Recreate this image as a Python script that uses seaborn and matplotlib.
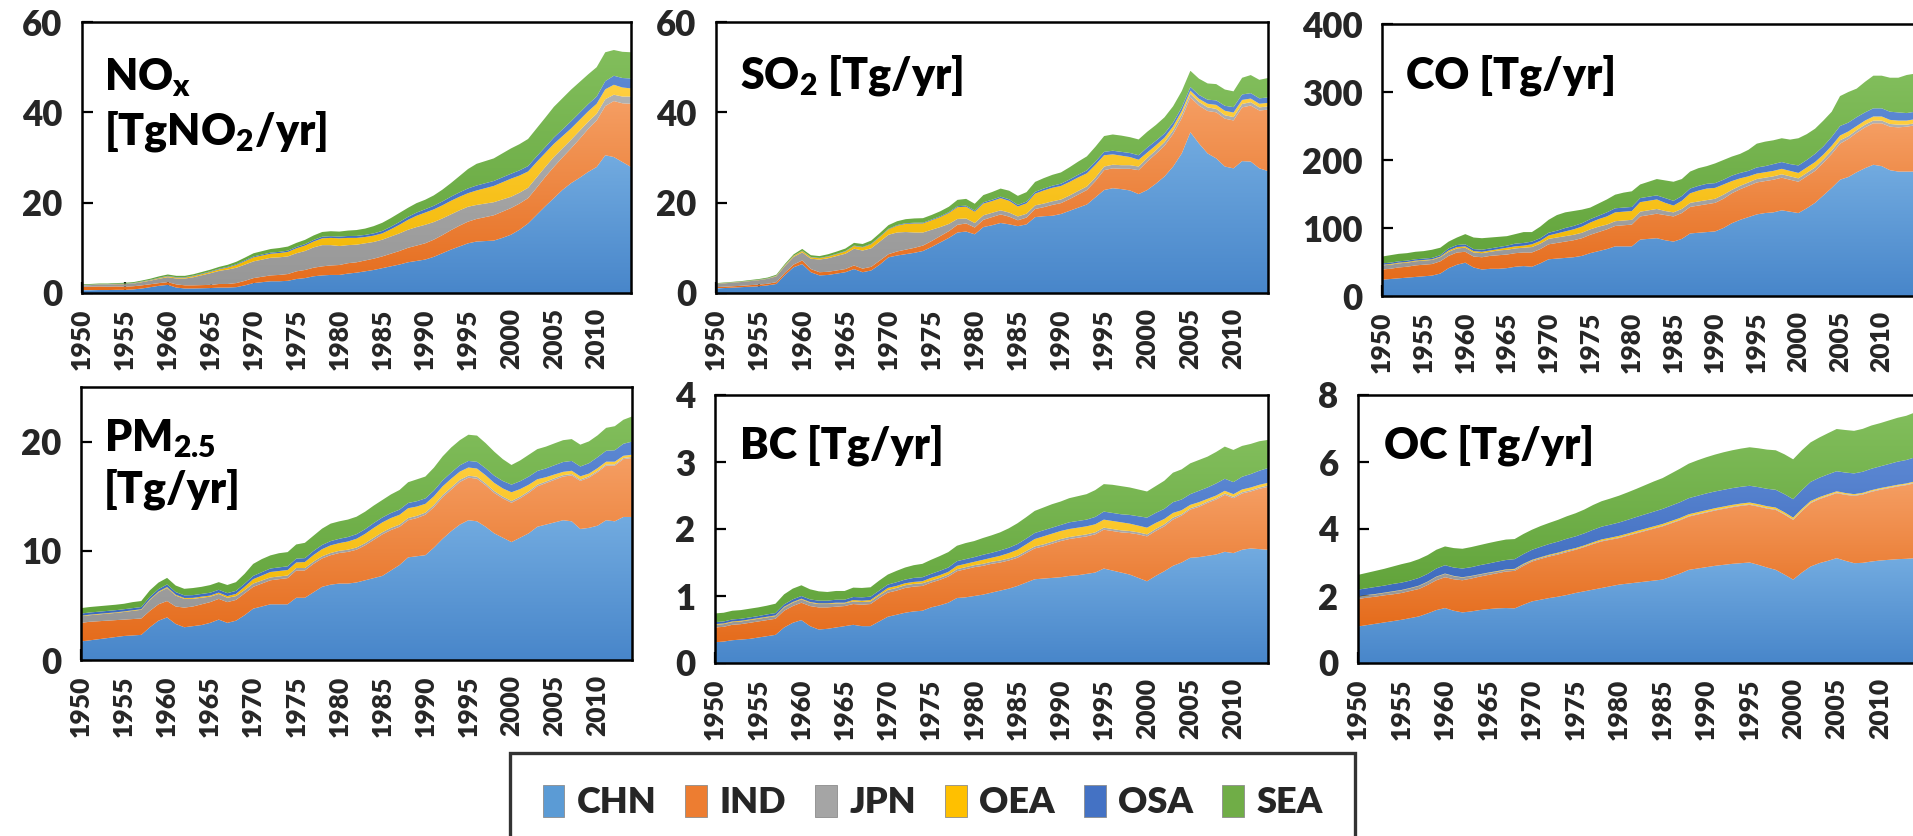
import numpy as np
import pandas as pd
import matplotlib
matplotlib.use("Agg")
import matplotlib.pyplot as plt
from matplotlib.colors import LinearSegmentedColormap
from matplotlib.patches import Patch
import seaborn as sns

YEARS = list(range(1950, 2015))
REGIONS = ["CHN", "IND", "JPN", "OEA", "OSA", "SEA"]

# ---------------- NOx [Tg NO2/yr] ----------------
NOX_CHN = [0.6, 0.6, 0.65, 0.65, 0.7, 0.7, 0.8, 1.0, 1.3, 1.6,
           1.8, 1.2, 1.0, 1.0, 1.05, 1.1, 1.2, 1.2, 1.3, 1.7,
           2.2, 2.4, 2.6, 2.6, 2.7, 3.1, 3.3, 3.7, 3.9, 4.0,
           4.0, 4.3, 4.5, 4.8, 5.1, 5.5, 5.9, 6.3, 6.8, 7.1,
           7.4, 8.0, 8.8, 9.6, 10.3, 11.0, 11.4, 11.5, 11.6, 12.2,
           12.9, 14.0, 15.4, 17.3, 19.2, 21.0, 22.8, 24.3, 25.5, 26.8,
           27.9, 30.5, 30.1, 29.0, 27.9]
NOX_IND = [0.8, 0.8, 0.8, 0.75, 0.75, 0.7, 0.7, 0.7, 0.65, 0.6,
           0.6, 0.7, 0.7, 0.7, 0.7, 0.7, 0.8, 0.8, 0.9, 1.0,
           1.1, 1.2, 1.3, 1.4, 1.5, 1.7, 1.8, 1.9, 2.0, 2.1,
           2.2, 2.3, 2.3, 2.4, 2.5, 2.6, 2.8, 3.0, 3.2, 3.4,
           3.6, 3.8, 4.0, 4.3, 4.6, 4.8, 5.0, 5.3, 5.6, 5.8,
           5.9, 5.8, 5.6, 6.0, 6.5, 6.9, 7.2, 7.7, 8.6, 9.5,
           10.3, 10.9, 12.4, 13.0, 14.0]
NOX_JPN = [0.3, 0.35, 0.4, 0.45, 0.5, 0.55, 0.6, 0.7, 0.8, 0.95,
           1.1, 1.3, 1.5, 1.8, 2.2, 2.6, 2.9, 3.2, 3.4, 3.6,
           3.7, 3.8, 3.9, 3.9, 3.9, 4.0, 4.2, 4.5, 4.7, 4.5,
           4.2, 4.0, 3.9, 3.8, 3.7, 3.7, 3.8, 3.9, 4.0, 4.1,
           4.1, 3.9, 3.7, 3.5, 3.4, 3.3, 3.1, 3.0, 2.9, 2.7,
           2.5, 2.4, 2.3, 2.3, 2.2, 2.2, 2.0, 1.9, 1.8, 1.6,
           1.5, 1.5, 1.4, 1.5, 1.6]
NOX_OEA = [0.05, 0.05, 0.05, 0.05, 0.05, 0.05, 0.05, 0.1, 0.1, 0.15,
           0.2, 0.2, 0.2, 0.25, 0.25, 0.3, 0.35, 0.45, 0.6, 0.75,
           0.9, 0.9, 0.9, 0.95, 1.0, 1.1, 1.2, 1.3, 1.5, 1.6,
           1.7, 1.6, 1.5, 1.4, 1.4, 1.4, 1.6, 1.9, 2.2, 2.5,
           2.7, 2.8, 2.9, 3.0, 3.0, 3.0, 3.2, 3.4, 3.6, 3.8,
           4.0, 3.8, 3.6, 3.4, 3.1, 2.9, 2.7, 2.5, 2.4, 2.3,
           2.2, 2.2, 2.2, 2.0, 1.8]
NOX_OSA = [0.05, 0.05, 0.05, 0.05, 0.05, 0.06, 0.06, 0.07, 0.08, 0.09,
           0.1, 0.1, 0.1, 0.11, 0.12, 0.13, 0.14, 0.15, 0.17, 0.19,
           0.2, 0.22, 0.24, 0.26, 0.28, 0.3, 0.32, 0.34, 0.36, 0.38,
           0.4, 0.42, 0.44, 0.46, 0.5, 0.54, 0.58, 0.62, 0.66, 0.7,
           0.74, 0.8, 0.86, 0.92, 0.98, 1.05, 1.1, 1.1, 1.1, 1.1,
           1.1, 1.15, 1.2, 1.25, 1.3, 1.4, 1.5, 1.6, 1.6, 1.6,
           1.6, 1.8, 2.0, 2.1, 2.2]
NOX_SEA = [0.15, 0.15, 0.15, 0.15, 0.15, 0.2, 0.2, 0.2, 0.25, 0.3,
           0.3, 0.3, 0.3, 0.3, 0.35, 0.35, 0.4, 0.45, 0.55, 0.6,
           0.7, 0.75, 0.8, 0.85, 0.9, 0.9, 0.95, 1.0, 1.05, 1.1,
           1.1, 1.2, 1.3, 1.4, 1.6, 1.8, 1.9, 2.0, 2.0, 2.1,
           2.1, 2.3, 2.6, 3.0, 3.6, 4.3, 4.8, 4.9, 5.0, 5.3,
           5.6, 5.8, 6.0, 6.2, 6.5, 6.8, 6.9, 7.0, 6.8, 6.6,
           6.5, 6.4, 5.7, 5.8, 5.8]

# ---------------- SO2 [Tg/yr] ----------------
SO2_CHN = [1.0, 1.1, 1.2, 1.3, 1.4, 1.5, 1.7, 2.0, 4.0, 5.7,
           6.4, 4.6, 3.9, 4.0, 4.3, 4.6, 5.3, 4.6, 5.0, 6.3,
           7.9, 8.3, 8.6, 8.9, 9.3, 10.2, 11.2, 12.2, 13.4, 13.6,
           13.0, 14.6, 15.0, 15.5, 15.2, 14.8, 15.2, 16.8, 17.0, 17.1,
           17.5, 18.2, 18.9, 19.6, 21.2, 22.8, 23.2, 23.0, 22.7, 21.9,
           22.8, 24.2, 25.8, 28.0, 30.9, 35.6, 33.1, 30.9, 29.8, 28.0,
           27.6, 29.2, 29.1, 27.6, 27.0]
SO2_IND = [0.3, 0.3, 0.3, 0.3, 0.35, 0.35, 0.35, 0.4, 0.5, 0.6,
           0.8, 0.7, 0.7, 0.7, 0.7, 0.7, 0.8, 0.8, 0.8, 0.9,
           0.7, 0.9, 1.0, 1.1, 1.2, 1.3, 1.4, 1.5, 1.7, 1.8,
           1.5, 1.6, 1.8, 1.9, 1.7, 1.3, 1.5, 1.8, 2.0, 2.4,
           2.4, 2.6, 2.9, 3.2, 3.6, 4.4, 4.4, 4.5, 4.8, 5.3,
           6.3, 6.6, 6.8, 7.2, 7.8, 7.7, 8.4, 9.4, 10.2, 10.6,
           10.6, 11.9, 12.4, 12.8, 13.6]
SO2_JPN = [0.7, 0.75, 0.8, 0.85, 0.9, 1.0, 1.1, 1.3, 1.5, 1.7,
           1.8, 2.3, 2.8, 3.0, 3.2, 3.4, 3.7, 4.0, 4.1, 4.2,
           4.3, 4.2, 3.9, 3.4, 2.9, 2.5, 2.0, 1.6, 1.3, 1.1,
           1.0, 1.0, 0.95, 0.9, 0.9, 0.85, 0.85, 0.8, 0.8, 0.8,
           0.8, 0.8, 0.8, 0.8, 0.8, 0.8, 0.8, 0.8, 0.8, 0.8,
           0.8, 0.8, 0.8, 0.8, 0.8, 0.8, 0.8, 0.8, 0.75, 0.75,
           0.75, 0.75, 0.75, 0.7, 0.7]
SO2_OEA = [0.05, 0.05, 0.05, 0.05, 0.05, 0.05, 0.05, 0.1, 0.15, 0.2,
           0.3, 0.3, 0.3, 0.35, 0.4, 0.5, 0.6, 0.7, 0.9, 1.0,
           1.2, 1.5, 1.8, 2.0, 2.0, 2.1, 2.2, 2.4, 2.6, 2.6,
           2.5, 2.6, 2.6, 2.7, 2.6, 2.2, 2.3, 2.6, 2.9, 3.0,
           3.0, 3.0, 3.0, 2.9, 2.8, 2.5, 2.3, 2.1, 1.8, 1.5,
           1.2, 1.1, 1.0, 0.9, 0.8, 0.7, 0.7, 0.8, 0.9, 1.0,
           1.0, 0.9, 0.8, 0.8, 0.8]
SO2_OSA = [0.03, 0.03, 0.03, 0.03, 0.04, 0.04, 0.04, 0.05, 0.05, 0.06,
           0.06, 0.07, 0.07, 0.08, 0.08, 0.09, 0.1, 0.1, 0.11, 0.12,
           0.13, 0.14, 0.15, 0.16, 0.17, 0.18, 0.19, 0.2, 0.22, 0.24,
           0.26, 0.28, 0.3, 0.32, 0.34, 0.36, 0.38, 0.4, 0.43, 0.46,
           0.5, 0.55, 0.6, 0.65, 0.7, 0.75, 0.8, 0.85, 0.9, 1.0,
           1.1, 1.0, 0.9, 0.85, 0.8, 0.8, 0.85, 0.9, 1.0, 1.1,
           1.2, 1.2, 1.2, 1.2, 1.2]
SO2_SEA = [0.1, 0.1, 0.1, 0.12, 0.14, 0.16, 0.18, 0.2, 0.25, 0.3,
           0.4, 0.4, 0.4, 0.45, 0.5, 0.55, 0.6, 0.65, 0.7, 0.75,
           0.8, 0.85, 0.9, 0.95, 1.0, 1.0, 1.1, 1.2, 1.4, 1.5,
           1.5, 1.6, 1.7, 1.8, 1.9, 2.0, 2.1, 2.2, 2.3, 2.4,
           2.5, 2.7, 2.9, 3.1, 3.3, 3.5, 3.6, 3.6, 3.5, 3.5,
           3.5, 3.5, 3.6, 3.6, 3.6, 3.6, 3.6, 3.6, 3.6, 3.6,
           3.5, 3.7, 4.0, 4.1, 4.3]

# ---------------- CO [Tg/yr] ----------------
CO_CHN = [24, 25, 26, 27, 28, 29, 30, 33, 41, 46,
          49, 42, 39, 40, 40, 41, 43, 44, 43, 48,
          54, 55, 56, 57, 59, 63, 66, 69, 73, 73,
          73, 83, 84, 85, 82, 80, 84, 92, 93, 94,
          95, 100, 107, 112, 116, 120, 122, 123, 126, 124,
          122, 129, 137, 148, 159, 171, 175, 182, 188, 193,
          191, 185, 183, 183, 183]
CO_IND = [15, 15, 16, 16, 17, 17, 17, 18, 18, 18,
          16, 16, 18, 19, 20, 20, 20, 20, 21, 21,
          22, 23, 24, 25, 26, 27, 28, 29, 30, 31,
          32, 34, 35, 36, 37, 37, 38, 39, 40, 41,
          42, 43, 44, 45, 46, 47, 47, 48, 48, 47,
          46, 47, 47, 48, 50, 53, 56, 58, 60, 61,
          63, 64, 65, 66, 68]
CO_JPN = [6, 6, 6, 6, 6, 6, 6, 6, 6, 6,
          6, 6, 6, 6, 7, 7, 7, 7, 8, 8,
          8, 8, 8, 8, 8, 8, 8, 7, 7, 7,
          7, 7, 7, 7, 6, 6, 6, 6, 6, 6,
          6, 6, 5, 5, 5, 5, 5, 5, 5, 5,
          5, 5, 5, 5, 5, 5, 4, 4, 4, 4,
          4, 4, 4, 3, 3]
CO_OEA = [1, 1, 1, 1, 1, 1, 1, 1, 2, 2,
          2, 2, 2, 2, 2, 3, 3, 3, 4, 4,
          5, 6, 7, 8, 9, 10, 11, 12, 13, 13,
          13, 14, 14, 14, 12, 10, 12, 14, 16, 17,
          16, 15, 13, 11, 9, 8, 8, 8, 8, 8,
          8, 8, 8, 7, 7, 7, 7, 6, 6, 6,
          6, 6, 6, 6, 6]
CO_OSA = [2, 2, 2, 2, 2, 2, 2, 2, 3, 3,
          3, 3, 3, 3, 3, 3, 4, 4, 4, 4,
          4, 4, 5, 5, 5, 5, 5, 6, 6, 6,
          6, 6, 6, 6, 7, 7, 7, 7, 7, 7,
          7, 7, 8, 8, 8, 9, 9, 10, 10, 10,
          11, 11, 12, 12, 13, 14, 13, 13, 12, 12,
          12, 12, 12, 11, 11]
CO_SEA = [10, 11, 11, 11, 11, 11, 12, 11, 10, 11,
          15, 17, 17, 16, 15, 14, 14, 16, 14, 17,
          19, 23, 23, 22, 20, 17, 18, 19, 20, 22,
          23, 20, 22, 24, 26, 28, 25, 25, 26, 26,
          29, 29, 28, 28, 31, 35, 36, 35, 35, 36,
          40, 38, 37, 38, 37, 44, 45, 42, 45, 48,
          48, 50, 51, 56, 56]

# ---------------- PM2.5 [Tg/yr] ----------------
PM_CHN = [1.7, 1.8, 1.9, 2.0, 2.1, 2.2, 2.25, 2.3, 3.0, 3.6,
          3.9, 3.3, 3.0, 3.1, 3.2, 3.4, 3.7, 3.4, 3.6, 4.1,
          4.7, 4.9, 5.1, 5.1, 5.1, 5.7, 5.7, 6.2, 6.7, 6.9,
          7.0, 7.0, 7.1, 7.3, 7.5, 7.7, 8.2, 8.7, 9.4, 9.5,
          9.6, 10.3, 11.1, 11.8, 12.4, 12.8, 12.7, 12.2, 11.6, 11.2,
          10.8, 11.2, 11.6, 12.2, 12.4, 12.6, 12.8, 12.7, 12.0, 12.1,
          12.3, 12.8, 12.7, 13.1, 13.1]
PM_IND = [1.7, 1.7, 1.65, 1.6, 1.55, 1.5, 1.5, 1.5, 1.5, 1.5,
          1.5, 1.6, 1.8, 1.8, 1.9, 1.9, 1.9, 1.9, 1.9, 2.0,
          2.0, 2.1, 2.2, 2.3, 2.4, 2.5, 2.5, 2.6, 2.6, 2.7,
          2.8, 2.9, 3.0, 3.2, 3.5, 3.8, 3.7, 3.5, 3.4, 3.5,
          3.7, 3.7, 3.8, 3.8, 3.9, 3.9, 3.9, 3.8, 3.7, 3.6,
          3.6, 3.6, 3.7, 3.7, 3.8, 3.9, 4.0, 4.2, 4.4, 4.6,
          4.9, 5.0, 5.1, 5.3, 5.4]
PM_JPN = [0.6, 0.6, 0.62, 0.64, 0.66, 0.7, 0.75, 0.8, 1.0, 1.1,
          1.2, 1.0, 0.8, 0.7, 0.6, 0.5, 0.45, 0.4, 0.35, 0.3,
          0.3, 0.28, 0.26, 0.25, 0.24, 0.23, 0.22, 0.21, 0.2, 0.2,
          0.2, 0.2, 0.2, 0.2, 0.2, 0.2, 0.2, 0.2, 0.2, 0.2,
          0.2, 0.2, 0.2, 0.2, 0.2, 0.18, 0.18, 0.17, 0.17, 0.16,
          0.16, 0.15, 0.15, 0.15, 0.14, 0.14, 0.13, 0.13, 0.12, 0.12,
          0.12, 0.11, 0.11, 0.1, 0.1]
PM_OEA = [0.05, 0.05, 0.05, 0.05, 0.05, 0.05, 0.05, 0.05, 0.06, 0.07,
          0.08, 0.08, 0.08, 0.09, 0.1, 0.1, 0.12, 0.15, 0.2, 0.3,
          0.4, 0.45, 0.5, 0.5, 0.5, 0.5, 0.55, 0.6, 0.65, 0.7,
          0.7, 0.75, 0.8, 0.85, 0.9, 0.9, 0.9, 0.9, 0.9, 0.85,
          0.8, 0.8, 0.8, 0.8, 0.75, 0.75, 0.75, 0.75, 0.75, 0.75,
          0.8, 0.7, 0.6, 0.5, 0.4, 0.35, 0.3, 0.3, 0.3, 0.25,
          0.25, 0.25, 0.25, 0.2, 0.2]
PM_OSA = [0.2, 0.2, 0.2, 0.2, 0.2, 0.2, 0.2, 0.2, 0.22, 0.22,
          0.24, 0.24, 0.24, 0.25, 0.25, 0.26, 0.26, 0.27, 0.28, 0.29,
          0.3, 0.31, 0.32, 0.33, 0.34, 0.35, 0.36, 0.37, 0.38, 0.39,
          0.4, 0.41, 0.42, 0.43, 0.44, 0.45, 0.46, 0.47, 0.48, 0.49,
          0.5, 0.52, 0.54, 0.56, 0.58, 0.6, 0.62, 0.64, 0.66, 0.68,
          0.7, 0.72, 0.74, 0.76, 0.8, 0.85, 0.9, 0.9, 0.9, 0.95,
          1.0, 1.0, 1.05, 1.1, 1.2]
PM_SEA = [0.5, 0.5, 0.5, 0.5, 0.5, 0.5, 0.55, 0.55, 0.6, 0.6,
          0.6, 0.6, 0.6, 0.65, 0.65, 0.7, 0.7, 0.75, 0.8, 0.9,
          1.1, 1.2, 1.2, 1.3, 1.3, 1.3, 1.4, 1.4, 1.5, 1.6,
          1.6, 1.6, 1.6, 1.6, 1.6, 1.6, 1.7, 1.8, 1.9, 2.0,
          2.0, 2.1, 2.2, 2.3, 2.3, 2.4, 2.4, 2.3, 2.2, 2.0,
          1.8, 1.9, 2.0, 2.0, 2.0, 2.0, 2.0, 2.0, 2.0, 2.0,
          2.0, 2.1, 2.2, 2.2, 2.3]

# ---------------- BC [Tg/yr] ----------------
BC_CHN = [0.31, 0.32, 0.34, 0.35, 0.36, 0.38, 0.40, 0.42, 0.53, 0.6,
          0.64, 0.55, 0.50, 0.51, 0.53, 0.55, 0.57, 0.55, 0.55, 0.62,
          0.69, 0.72, 0.75, 0.77, 0.78, 0.83, 0.86, 0.9, 0.97, 0.98,
          1.0, 1.02, 1.05, 1.08, 1.11, 1.15, 1.2, 1.25, 1.26, 1.27,
          1.28, 1.3, 1.31, 1.33, 1.35, 1.41, 1.38, 1.35, 1.32, 1.27,
          1.22, 1.3, 1.37, 1.45, 1.5, 1.57, 1.58, 1.6, 1.62, 1.66,
          1.64, 1.69, 1.71, 1.7, 1.69]
BC_IND = [0.22, 0.22, 0.23, 0.23, 0.24, 0.24, 0.24, 0.24, 0.25, 0.25,
          0.26, 0.3, 0.33, 0.32, 0.31, 0.3, 0.31, 0.32, 0.33, 0.35,
          0.36, 0.36, 0.37, 0.37, 0.37, 0.37, 0.38, 0.39, 0.4, 0.42,
          0.43, 0.43, 0.43, 0.42, 0.42, 0.42, 0.44, 0.46, 0.48, 0.51,
          0.54, 0.55, 0.56, 0.56, 0.57, 0.58, 0.59, 0.6, 0.62, 0.65,
          0.67, 0.67, 0.67, 0.69, 0.7, 0.72, 0.75, 0.79, 0.82, 0.85,
          0.82, 0.84, 0.85, 0.9, 0.94]
BC_JPN = [0.04, 0.04, 0.04, 0.04, 0.04, 0.04, 0.04, 0.04, 0.05, 0.05,
          0.05, 0.05, 0.05, 0.05, 0.05, 0.04, 0.04, 0.04, 0.04, 0.04,
          0.04, 0.04, 0.04, 0.04, 0.04, 0.03, 0.03, 0.03, 0.03, 0.03,
          0.03, 0.03, 0.03, 0.03, 0.03, 0.03, 0.03, 0.03, 0.03, 0.03,
          0.03, 0.03, 0.03, 0.03, 0.03, 0.03, 0.03, 0.03, 0.03, 0.03,
          0.03, 0.03, 0.03, 0.03, 0.02, 0.02, 0.02, 0.02, 0.02, 0.02,
          0.02, 0.02, 0.02, 0.02, 0.02]
BC_OEA = [0.01, 0.01, 0.01, 0.01, 0.01, 0.01, 0.01, 0.01, 0.01, 0.01,
          0.01, 0.01, 0.01, 0.01, 0.01, 0.01, 0.02, 0.02, 0.02, 0.02,
          0.03, 0.03, 0.03, 0.03, 0.03, 0.04, 0.04, 0.04, 0.05, 0.05,
          0.05, 0.06, 0.06, 0.07, 0.08, 0.09, 0.1, 0.11, 0.12, 0.12,
          0.12, 0.12, 0.12, 0.12, 0.12, 0.12, 0.12, 0.12, 0.11, 0.1,
          0.1, 0.09, 0.08, 0.07, 0.06, 0.05, 0.05, 0.04, 0.04, 0.04,
          0.04, 0.04, 0.04, 0.04, 0.04]
BC_OSA = [0.03, 0.03, 0.03, 0.03, 0.03, 0.03, 0.035, 0.035, 0.035, 0.04,
          0.04, 0.04, 0.04, 0.04, 0.045, 0.045, 0.045, 0.05, 0.05, 0.05,
          0.05, 0.055, 0.055, 0.06, 0.06, 0.06, 0.065, 0.065, 0.07, 0.07,
          0.07, 0.075, 0.075, 0.08, 0.08, 0.085, 0.085, 0.09, 0.09, 0.09,
          0.09, 0.1, 0.1, 0.1, 0.11, 0.12, 0.12, 0.12, 0.13, 0.14,
          0.15, 0.15, 0.15, 0.16, 0.16, 0.16, 0.17, 0.17, 0.18, 0.18,
          0.18, 0.19, 0.2, 0.21, 0.22]
BC_SEA = [0.13, 0.13, 0.13, 0.13, 0.13, 0.13, 0.13, 0.14, 0.15, 0.16,
          0.16, 0.15, 0.14, 0.13, 0.13, 0.13, 0.14, 0.14, 0.14, 0.15,
          0.15, 0.17, 0.18, 0.19, 0.2, 0.21, 0.22, 0.23, 0.23, 0.24,
          0.24, 0.25, 0.26, 0.27, 0.29, 0.31, 0.32, 0.33, 0.34, 0.35,
          0.35, 0.36, 0.37, 0.38, 0.4, 0.41, 0.42, 0.42, 0.41, 0.4,
          0.39, 0.4, 0.42, 0.44, 0.45, 0.46, 0.46, 0.46, 0.47, 0.48,
          0.48, 0.46, 0.45, 0.44, 0.42]

# ---------------- OC [Tg/yr] ----------------
OC_CHN = [1.09, 1.13, 1.17, 1.21, 1.25, 1.29, 1.34, 1.39, 1.48, 1.58,
          1.64, 1.56, 1.51, 1.54, 1.58, 1.61, 1.63, 1.64, 1.63, 1.74,
          1.84, 1.89, 1.94, 1.98, 2.03, 2.09, 2.14, 2.19, 2.24, 2.29,
          2.34, 2.37, 2.4, 2.43, 2.46, 2.49, 2.58, 2.67, 2.78, 2.82,
          2.86, 2.9, 2.93, 2.96, 2.98, 3.0, 2.93, 2.85, 2.78, 2.64,
          2.49, 2.7, 2.88, 2.98, 3.05, 3.13, 3.05, 2.98, 2.99, 3.03,
          3.06, 3.08, 3.1, 3.11, 3.13]
OC_IND = [0.82, 0.82, 0.81, 0.81, 0.8, 0.8, 0.81, 0.82, 0.85, 0.89,
          0.92, 0.94, 0.96, 0.98, 1.0, 1.02, 1.05, 1.09, 1.12, 1.16,
          1.19, 1.22, 1.24, 1.26, 1.28, 1.29, 1.32, 1.36, 1.39, 1.39,
          1.39, 1.43, 1.47, 1.51, 1.55, 1.59, 1.59, 1.59, 1.59, 1.61,
          1.63, 1.65, 1.67, 1.69, 1.71, 1.72, 1.74, 1.76, 1.79, 1.79,
          1.78, 1.83, 1.89, 1.91, 1.93, 1.94, 1.97, 2.01, 2.04, 2.08,
          2.11, 2.14, 2.17, 2.2, 2.24]
OC_JPN = [0.07, 0.07, 0.07, 0.07, 0.08, 0.08, 0.08, 0.09, 0.09, 0.1,
          0.1, 0.09, 0.08, 0.07, 0.06, 0.06, 0.05, 0.05, 0.04, 0.04,
          0.03, 0.03, 0.03, 0.03, 0.03, 0.02, 0.02, 0.02, 0.02, 0.02,
          0.02, 0.02, 0.02, 0.02, 0.02, 0.02, 0.02, 0.02, 0.02, 0.02,
          0.02, 0.02, 0.02, 0.02, 0.02, 0.02, 0.02, 0.02, 0.02, 0.02,
          0.02, 0.02, 0.02, 0.02, 0.02, 0.02, 0.02, 0.02, 0.02, 0.02,
          0.02, 0.02, 0.02, 0.02, 0.02]
OC_OEA = [0.01, 0.01, 0.01, 0.01, 0.01, 0.01, 0.01, 0.01, 0.01, 0.01,
          0.01, 0.01, 0.01, 0.01, 0.01, 0.01, 0.015, 0.015, 0.02, 0.02,
          0.02, 0.02, 0.025, 0.025, 0.03, 0.03, 0.03, 0.035, 0.04, 0.04,
          0.045, 0.045, 0.05, 0.05, 0.05, 0.05, 0.05, 0.05, 0.05, 0.05,
          0.05, 0.05, 0.05, 0.05, 0.05, 0.05, 0.05, 0.05, 0.05, 0.05,
          0.05, 0.05, 0.045, 0.04, 0.04, 0.035, 0.035, 0.03, 0.03, 0.03,
          0.03, 0.03, 0.03, 0.03, 0.03]
OC_OSA = [0.2, 0.2, 0.21, 0.21, 0.22, 0.22, 0.22, 0.23, 0.23, 0.24,
          0.25, 0.25, 0.26, 0.26, 0.27, 0.27, 0.28, 0.28, 0.29, 0.29,
          0.3, 0.31, 0.32, 0.33, 0.34, 0.35, 0.36, 0.37, 0.38, 0.39,
          0.4, 0.41, 0.42, 0.43, 0.44, 0.45, 0.46, 0.47, 0.48, 0.49,
          0.5, 0.5, 0.5, 0.5, 0.5, 0.5, 0.51, 0.52, 0.53, 0.54,
          0.55, 0.56, 0.57, 0.58, 0.59, 0.6, 0.61, 0.62, 0.63, 0.64,
          0.65, 0.67, 0.69, 0.7, 0.72]
OC_SEA = [0.44, 0.46, 0.48, 0.5, 0.52, 0.55, 0.55, 0.56, 0.56, 0.56,
          0.56, 0.58, 0.59, 0.6, 0.6, 0.61, 0.61, 0.61, 0.6, 0.6,
          0.6, 0.62, 0.63, 0.65, 0.67, 0.69, 0.71, 0.74, 0.76, 0.78,
          0.8, 0.82, 0.84, 0.87, 0.9, 0.92, 0.96, 1.0, 1.03, 1.06,
          1.08, 1.1, 1.12, 1.13, 1.14, 1.15, 1.16, 1.17, 1.18, 1.19,
          1.19, 1.19, 1.18, 1.2, 1.23, 1.26, 1.27, 1.27, 1.28, 1.29,
          1.29, 1.3, 1.31, 1.32, 1.34]

# Region colours: (lower shade, upper shade) of each gradient band
BASE = sns.color_palette(["#5B9BD5", "#ED7D31", "#A5A5A5", "#FFC000", "#4472C4", "#70AD47"])
SHADES = {
    "CHN": ("#4886CA", "#72ABE0"),
    "IND": ("#E56C1C", "#F59E63"),
    "JPN": ("#979797", "#B1B1B1"),
    "OEA": ("#F2B700", "#FFCF40"),
    "OSA": ("#3D6ABD", "#5C88D3"),
    "SEA": ("#62A43B", "#82BE5C"),
}


def frame(ch, ind, jpn, oea, osa, sea):
    return pd.DataFrame({"Year": YEARS, "CHN": ch, "IND": ind, "JPN": jpn,
                         "OEA": oea, "OSA": osa, "SEA": sea})


PANELS = [
    # data, y max, y step, pixel box (left, top, right, bottom), title lines
    (frame(NOX_CHN, NOX_IND, NOX_JPN, NOX_OEA, NOX_OSA, NOX_SEA), 60, 20,
     (82, 22, 631, 293), [("NO$_\\mathrm{x}$", 104, 90), ("[TgNO$_\\mathrm{2}$/yr]", 104, 144)]),
    (frame(SO2_CHN, SO2_IND, SO2_JPN, SO2_OEA, SO2_OSA, SO2_SEA), 60, 20,
     (716, 22, 1268, 293), [("SO$_\\mathrm{2}$ [Tg/yr]", 740, 88)]),
    (frame(CO_CHN, CO_IND, CO_JPN, CO_OEA, CO_OSA, CO_SEA), 400, 100,
     (1382, 24, 1915, 296), [("CO [Tg/yr]", 1406, 89)]),
    (frame(PM_CHN, PM_IND, PM_JPN, PM_OEA, PM_OSA, PM_SEA), 25, 10,
     (81, 387, 632, 660), [("PM$_\\mathrm{2.5}$", 104, 451), ("[Tg/yr]", 104, 502)]),
    (frame(BC_CHN, BC_IND, BC_JPN, BC_OEA, BC_OSA, BC_SEA), 4, 1,
     (715, 395, 1268, 663), [("BC [Tg/yr]", 740, 458)]),
    (frame(OC_CHN, OC_IND, OC_JPN, OC_OEA, OC_OSA, OC_SEA), 8, 2,
     (1358, 395, 1915, 663), [("OC [Tg/yr]", 1384, 458)]),
]

W, H = 1913, 836
FONT = "Lato"
WEIGHT = "heavy"
sns.set_theme(style="white")
plt.rcParams["font.family"] = [FONT, "DejaVu Sans"]
plt.rcParams["font.weight"] = WEIGHT
plt.rcParams["mathtext.fontset"] = "custom"
plt.rcParams["mathtext.rm"] = f"{FONT}:{WEIGHT}"
plt.rcParams["mathtext.it"] = f"{FONT}:{WEIGHT}"
plt.rcParams["mathtext.bf"] = f"{FONT}:{WEIGHT}"

fig = plt.figure(figsize=(W / 100, H / 100), dpi=100)
GRAD = np.linspace(0, 1, 256).reshape(-1, 1)


def stacked_area(ax, df, ymax, ystep):
    x = df["Year"].to_numpy(dtype=float)
    base = np.zeros(len(x))
    for reg in REGIONS:
        top = base + df[reg].to_numpy(dtype=float)
        poly = ax.fill_between(x, base, top, facecolor="none", edgecolor="none", lw=0)
        cmap = LinearSegmentedColormap.from_list(reg, list(SHADES[reg]))
        im = ax.imshow(GRAD, extent=[x[0], x[-1], base.min(), top.max()], origin="lower",
                       aspect="auto", cmap=cmap, interpolation="bilinear", zorder=1)
        im.set_clip_path(poly.get_paths()[0], transform=ax.transData)
        base = top
    ax.set_xlim(1950, 2014)
    ax.set_ylim(0, ymax)
    ax.set_xticks(list(range(1950, 2011, 5)))
    ax.set_xticklabels([str(y) for y in range(1950, 2011, 5)], rotation=90)
    ax.set_yticks(np.arange(0, ymax + 0.001, ystep))
    ax.set_yticklabels([f"{v:g}" for v in np.arange(0, ymax + 0.001, ystep)])
    ax.tick_params(axis="x", direction="in", length=8, width=1.6, color="black",
                   labelsize=19, pad=11, bottom=True)
    ax.tick_params(axis="y", direction="in", length=8, width=1.6, color="black",
                   labelsize=25, pad=14, left=True)
    for lab in ax.get_xticklabels() + ax.get_yticklabels():
        lab.set_fontweight(WEIGHT)
    for sp in ax.spines.values():
        sp.set_visible(True)
        sp.set_color("black")
        sp.set_linewidth(1.8)
        sp.set_zorder(5)
    ax.grid(False)


for df, ymax, ystep, (l, t, r, b), titles in PANELS:
    ax = fig.add_axes([l / W, 1 - b / H, (r - l) / W, (b - t) / H])
    stacked_area(ax, df, ymax, ystep)
    for text, tx, ty in titles:
        fig.text(tx / W, 1 - ty / H, text, fontsize=31, fontweight=WEIGHT,
                 ha="left", va="baseline", color="black")

handles = [Patch(facecolor=c, edgecolor="#8c8c8c", lw=0.6) for c in BASE]
leg = fig.legend(handles, REGIONS, loc="upper left", bbox_to_anchor=(510 / W, 1 - 753 / H),
                 ncol=6, frameon=True, fancybox=False, fontsize=26,
                 handlelength=0.6, handleheight=0.95, handletextpad=0.35,
                 columnspacing=0.8, borderpad=0.9, borderaxespad=0)
leg.get_frame().set_edgecolor("black")
leg.get_frame().set_linewidth(2.4)
for txt in leg.get_texts():
    txt.set_fontweight(WEIGHT)

fig.savefig("out.png", dpi=100, facecolor="white")
